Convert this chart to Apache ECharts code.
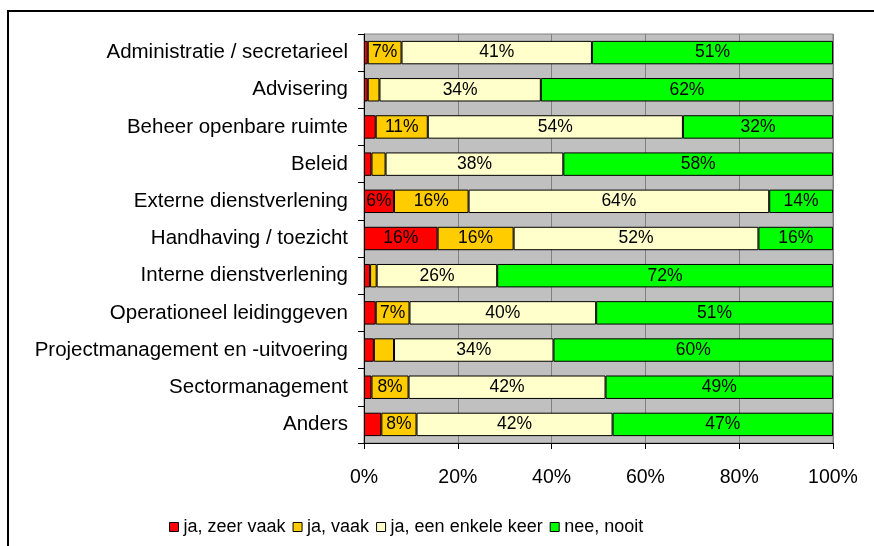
<!DOCTYPE html>
<html>
<head>
<meta charset="utf-8">
<script src="https://cdn.jsdelivr.net/npm/echarts@6/dist/echarts.min.js"></script>
<style>
	html, body { margin: 0; padding: 0; background: #ffffff; }
	#chart { width: 874px; height: 546px; }
</style>
</head>
<body>
<div id="chart"></div>
<script>
	// categories, top to bottom
	var categories = [
		'Administratie / secretarieel',
		'Advisering',
		'Beheer openbare ruimte',
		'Beleid',
		'Externe dienstverlening',
		'Handhaving / toezicht',
		'Interne dienstverlening',
		'Operationeel leidinggeven',
		'Projectmanagement en -uitvoering',
		'Sectormanagement',
		'Anders'
	];
	var seriesNames = ['ja, zeer vaak', 'ja, vaak', 'ja, een enkele keer', 'nee, nooit'];
	var zeerVaak = [0.8, 0.8, 2.5, 1.6, 6.4, 15.7, 1.3, 2.5, 2.1, 1.6, 3.7];
	var vaak     = [7.2, 2.5, 11.1, 3.0, 15.9, 16.2, 1.4, 7.2, 4.3, 7.9, 7.5];
	var enkele   = [40.6, 34.4, 54.4, 37.9, 64.1, 52.2, 25.7, 39.8, 34.0, 42.0, 41.8];
	var nooit    = [51.4, 62.3, 32.0, 57.5, 13.6, 15.9, 71.6, 50.5, 59.6, 48.5, 47.0];
	var xTicks = [0, 20, 40, 60, 80, 100];
	var colors = ['#FF0000', '#FFCC00', '#FFFFCC', '#00FF00'];

	var chart = echarts.init(document.getElementById('chart'));

	var allData = [zeerVaak, vaak, enkele, nooit];
	var series = allData.map(function (d, i) {
		return {
			name: seriesNames[i],
			type: 'bar',
			stack: 'tot',
			barCategoryGap: '37%',
			data: d,
			itemStyle: { color: colors[i], borderColor: '#000', borderWidth: 1 },
			label: {
				show: true,
				position: 'inside',
				color: '#000',
				fontFamily: 'Liberation Sans, Arial',
				fontSize: 17.5,
				// kleine segmenten krijgen geen label
				formatter: function (p) {
					return p.value >= 5 ? Math.round(p.value) + '%' : '';
				}
			}
		};
	});

	var option = {
		animation: false,
		backgroundColor: '#ffffff',
		color: colors,
		grid: {
			left: 364, right: 41, top: 34, bottom: 103,
			show: true,
			backgroundColor: '#C0C0C0',
			borderColor: '#808080',
			borderWidth: 1
		},
		legend: {
			left: 164,
			top: 513,
			icon: 'rect',
			itemWidth: 9,
			itemHeight: 9,
			itemGap: 7,
			textStyle: { color: '#000', fontFamily: 'Liberation Sans, Arial', fontSize: 18 },
			itemStyle: { borderColor: '#000', borderWidth: 1 },
			data: seriesNames
		},
		xAxis: {
			type: 'value',
			min: 0,
			max: 100,
			interval: 20,
			axisLine: { show: true, lineStyle: { color: '#000', width: 1 } },
			axisTick: { show: true, length: 6, lineStyle: { color: '#000' } },
			axisLabel: {
				color: '#000',
				fontFamily: 'Liberation Sans, Arial',
				fontSize: 19.5,
				margin: 25,
				formatter: function (v) { return xTicks.indexOf(v) >= 0 ? v + '%' : ''; }
			},
			splitLine: { show: true, lineStyle: { color: '#808080', width: 1 } }
		},
		yAxis: {
			type: 'category',
			inverse: true,
			data: categories,
			axisLine: { show: true, lineStyle: { color: '#000', width: 1 } },
			axisTick: { show: true, length: 6, lineStyle: { color: '#000' } },
			axisLabel: {
				color: '#000',
				fontFamily: 'Liberation Sans, Arial',
				fontSize: 20.5,
				margin: 16
			}
		},
		graphic: [
			{
				type: 'rect',
				shape: { x: 8, y: 11, width: 900, height: 600 },
				style: { fill: 'none', stroke: '#000', lineWidth: 2 },
				z: 10
			}
		],
		series: series
	};

	chart.setOption(option);
</script>
</body>
</html>
